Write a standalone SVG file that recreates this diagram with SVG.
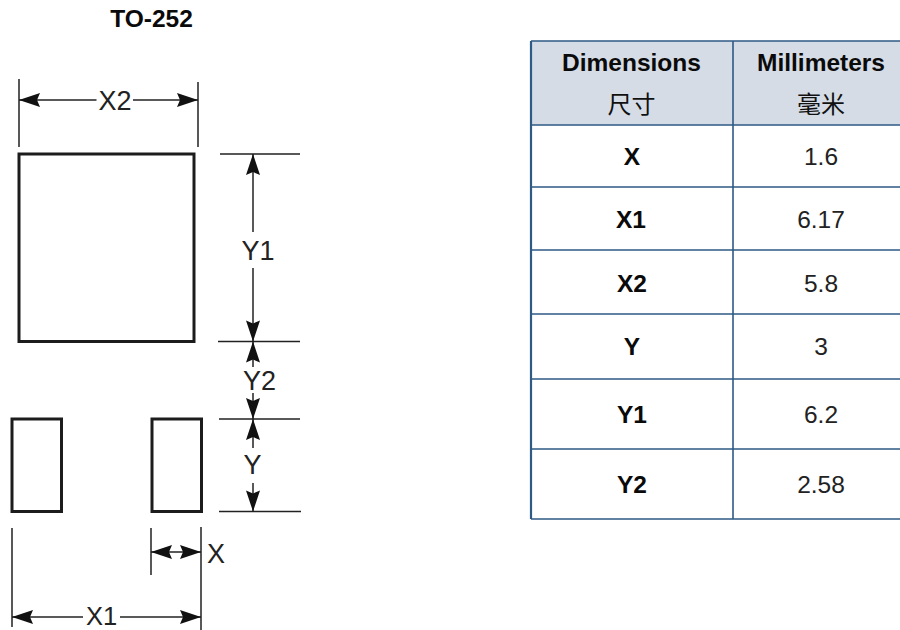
<svg xmlns="http://www.w3.org/2000/svg" width="900" height="630" viewBox="0 0 900 630">
<style>
.dim{fill:none;stroke:#222;stroke-width:1.5}
.ah{marker-end:url(#head)}
.pad{fill:#fff;stroke:#1c1c1c;stroke-width:3}
.lbl{font-family:"Liberation Sans",Arial,sans-serif;font-size:27px;fill:#222;text-anchor:middle}
.tl{stroke:#2f5a85;stroke-width:1.6;fill:none}
.b{font-family:"Liberation Sans",Arial,sans-serif;font-size:24.5px;font-weight:bold;fill:#0a0a0a;text-anchor:middle}
.n{font-family:"Liberation Sans",Arial,sans-serif;font-size:24.5px;fill:#222;text-anchor:middle}
.c{font-family:"Liberation Sans","Noto Sans CJK SC",sans-serif;font-size:24px;fill:#111;text-anchor:middle}
</style>
<defs>
<marker id="head" markerUnits="userSpaceOnUse" markerWidth="24" markerHeight="16" refX="21" refY="7" orient="auto" overflow="visible">
<path d="M21 7L0 0L3 7L0 14Z" fill="#111"/>
</marker>
</defs>
<rect width="900" height="630" fill="#fff"/>
<text id="title" x="151.500" y="27" class="b">TO-252</text>
<g id="land-large"><rect class="pad" x="19" y="154" width="175" height="187.500"/></g>
<g id="land-left"><rect class="pad" x="12" y="419" width="49.500" height="92.500"/></g>
<g id="land-right"><rect class="pad" x="152" y="419" width="49.500" height="92.500"/></g>
<g id="connectors">
<path class="dim" d="M19 79V147M198 82V147M220 154H300M218 341.500H300M219 419H300M219 511.500H301M12 528V627M151 528V575M201 527V630"/>
<line class="dim ah" x1="96.500" y1="100" x2="19" y2="100"/>
<line class="dim ah" x1="133" y1="100" x2="198" y2="100"/>
<line class="dim ah" x1="253" y1="232" x2="253" y2="154"/>
<line class="dim ah" x1="253" y1="268" x2="253" y2="341.500"/>
<line class="dim ah" x1="253" y1="367" x2="253" y2="341.500"/>
<line class="dim ah" x1="253" y1="393" x2="253" y2="419"/>
<line class="dim ah" x1="253" y1="448" x2="253" y2="419"/>
<line class="dim ah" x1="253" y1="483" x2="253" y2="511.500"/>
<line class="dim ah" x1="176" y1="552" x2="151" y2="552"/>
<line class="dim ah" x1="176" y1="552" x2="201" y2="552"/>
<line class="dim ah" x1="83" y1="617" x2="12" y2="617"/>
<line class="dim ah" x1="120" y1="617" x2="201" y2="617"/>
</g>
<g id="dim-labels">
<text class="lbl" x="115" y="110">X2</text>
<text class="lbl" x="258" y="260">Y1</text>
<text class="lbl" x="259.500" y="390">Y2</text>
<text class="lbl" x="252.500" y="474">Y</text>
<text class="lbl" x="216" y="563">X</text>
<text class="lbl" x="101.500" y="624.500" style="font-size:25.500px">X1</text>
</g>
<g id="table">
<rect x="531" y="41" width="369" height="84" fill="#d5dce6"/>
<path class="tl" d="M531 41H900M531 125H900M531 187H900M531 250H900M531 314H900M531 379H900M531 449H900M531 519H900M733 41V519"/>
<path class="tl" d="M531 41V519" style="stroke-width:2.200"/>
<g id="row-head">
<text class="b" x="631.500" y="71">Dimensions</text>
<text class="b" x="821" y="71">Millimeters</text>
<text class="c" x="631.500" y="113">尺寸</text>
<text class="c" x="821" y="113">毫米</text>
</g>
<g id="row-x"><text class="b" x="632" y="165">X</text><text class="n" x="821" y="165">1.6</text></g>
<g id="row-x1"><text class="b" x="631" y="228">X1</text><text class="n" x="821" y="228">6.17</text></g>
<g id="row-x2"><text class="b" x="632" y="292">X2</text><text class="n" x="821" y="292">5.8</text></g>
<g id="row-y"><text class="b" x="632" y="355">Y</text><text class="n" x="821" y="355">3</text></g>
<g id="row-y1"><text class="b" x="632" y="423">Y1</text><text class="n" x="821" y="423">6.2</text></g>
<g id="row-y2"><text class="b" x="632" y="493">Y2</text><text class="n" x="821" y="493">2.58</text></g>
</g>
</svg>
